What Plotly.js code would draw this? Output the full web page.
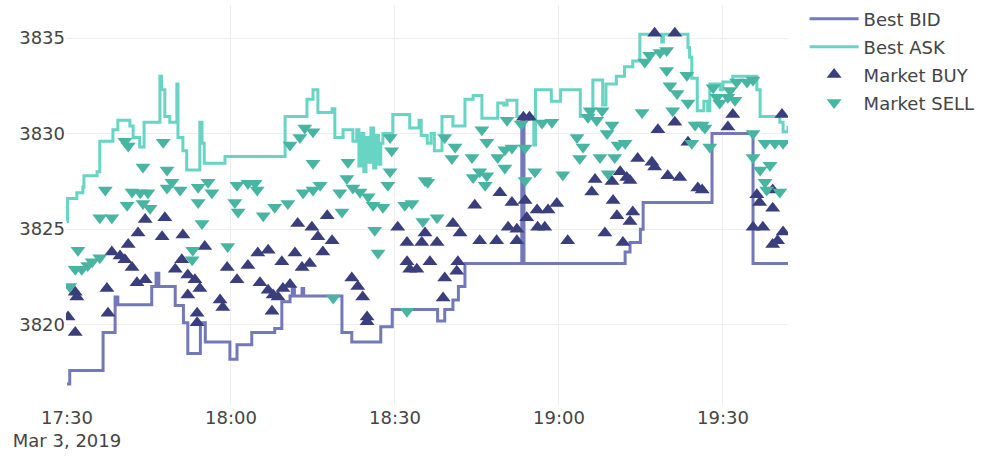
<!DOCTYPE html>
<html>
<head>
<meta charset="utf-8">
<script src="https://cdn.plot.ly/plotly-3.0.1.min.js"></script>
<style>html,body{margin:0;padding:0;background:#fff;}#chart{width:985px;height:459px;}</style>
</head>
<body>
<div id="chart"></div>
<script>
// Times are minutes after 2019-03-03 17:30:00
const bidMin = [0, 0.5, 6.6, 8.8, 9.3, 15.5, 16.3, 16.8, 19.8, 21.3, 22.1, 24.4, 25.3, 29.8, 31.1, 33.8, 38.0, 39.3, 40.8, 41.2, 41.6, 43.0, 43.3, 50.3, 52.1, 57.4, 59.5, 67.8, 69.1, 70.6, 71.6, 72.8, 83.2, 83.6, 102.1, 103.0, 104.9, 105.4, 118.0, 125.5, 131.9];
const bidPx  = [3816.9, 3817.6, 3819.6, 3821.45, 3821.05, 3822.0, 3822.7, 3822.0, 3821.0, 3820.1, 3818.5, 3820.1, 3819.1, 3818.2, 3818.95, 3819.6, 3819.8, 3821.2, 3821.5, 3821.9, 3821.5, 3821.9, 3821.5, 3819.6, 3819.1, 3819.9, 3820.8, 3820.2, 3820.8, 3821.3, 3822.0, 3823.2, 3830.8, 3823.2, 3823.8, 3824.3, 3825.0, 3826.4, 3830.0, 3823.2, 3823.2];

const askMin = [0, 0.1, 1.8, 2.9, 3.1, 5.5, 6.0, 8.4, 9.3, 11.5, 12.1, 13.3, 14.1, 17.0, 17.3, 17.9, 18.8, 20.1, 20.3, 21.2, 21.9, 24.3, 24.7, 25.1, 28.9, 39.9, 43.9, 45.0, 45.9, 48.5, 49.0, 50.5, 52.3, 53.0, 53.4, 53.8, 54.3, 54.7, 55.2, 55.6, 56.1, 56.5, 57.0, 57.4, 57.8, 59.6, 62.7, 64.4, 64.8, 65.9, 66.6, 67.2, 68.6, 70.6, 72.8, 74.3, 75.9, 78.8, 79.9, 80.5, 82.3, 85.4, 85.7, 88.6, 90.3, 93.9, 96.2, 98.0, 98.6, 99.3, 100.5, 102.0, 103.5, 104.8, 108.8, 109.1, 113.6, 113.9, 114.3, 115.3, 116.5, 117.2, 117.6, 119.5, 120.0, 121.8, 126.2, 126.8, 130.4, 131.0, 131.9];
const askPx  = [3825.4, 3826.6, 3826.9, 3827.2, 3827.8, 3828.0, 3829.6, 3830.2, 3830.7, 3830.4, 3829.8, 3829.3, 3830.6, 3833.0, 3832.3, 3830.9, 3830.6, 3832.6, 3829.8, 3829.1, 3828.1, 3830.6, 3829.5, 3828.45, 3828.8, 3830.9, 3831.8, 3832.3, 3831.1, 3831.3, 3829.8, 3830.2, 3829.6, 3830.2, 3828.3, 3830.0, 3828.0, 3829.8, 3828.5, 3830.3, 3828.2, 3829.9, 3828.4, 3829.5, 3830.0, 3831.0, 3830.3, 3830.7, 3829.9, 3829.5, 3830.0, 3829.1, 3830.9, 3830.4, 3831.8, 3832.0, 3830.8, 3831.6, 3831.5, 3831.75, 3830.9, 3829.4, 3832.3, 3831.7, 3832.3, 3830.9, 3832.8, 3831.5, 3832.6, 3832.6, 3833.0, 3833.5, 3833.8, 3835.2, 3834.8, 3835.2, 3834.5, 3834.0, 3832.9, 3831.2, 3831.7, 3831.2, 3832.6, 3832.3, 3832.7, 3833.0, 3832.3, 3830.9, 3830.6, 3830.1, 3830.4];

const buyMin = [14.3, 17.9, 13.0, 17.4, 21.2, 11.2, 25.2, 8.2, 9.7, 10.6, 11.9, 21.0, 19.8, 22.1, 23.4, 24.3, 12.8, 14.3, 7.3, 1.5, 1.8, 22.1, 28.0, 28.5, 29.3, 31.1, 33.1, 7.5, 23.8, 23.8, 0.2, 1.5,
  47.6, 42.2, 44.8, 45.9, 48.5, 46.8, 34.9, 36.8, 39.3, 41.7, 43.0, 44.4, 35.3, 36.8, 37.7, 39.5, 40.8, 38.6, 37.5, 52.1, 53.2, 54.1, 54.9, 54.9, 60.5, 62.2, 62.2, 64.0, 62.7, 64.9, 65.5,
  74.6, 81.4, 83.8, 86.0, 88.0, 89.6, 70.6, 71.9, 67.7, 75.5, 78.6, 80.7, 82.3, 82.3, 84.1, 86.1, 87.4, 91.6, 98.4, 100.6, 99.9, 66.4, 71.5, 71.3, 69.1, 68.8, 83.5, 84.6, 79.2, 96.6, 99.7, 96.0, 101.2,
  107.5, 111.2, 111.2, 108.1, 121.8, 120.9, 130.8, 113.6, 104.4, 107.0, 107.5, 109.9, 112.1, 102.4, 103.0, 115.4, 116.2, 126.2, 129.1, 103.5, 103.0, 101.7, 126.7, 129.1, 125.5, 127.3, 131.0, 130.0, 129.1];
const buyPx  = [3825.5, 3825.6, 3824.8, 3824.6, 3824.7, 3824.2, 3824.1, 3823.8, 3823.6, 3823.4, 3823.0, 3823.4, 3822.9, 3822.6, 3822.35, 3821.9, 3822.2, 3822.35, 3821.9, 3821.7, 3821.45, 3821.55, 3821.3, 3820.9, 3823.0, 3822.35, 3823.1, 3820.6, 3820.6, 3820.1, 3820.4, 3819.6,
  3825.7, 3825.3, 3825.1, 3824.6, 3824.4, 3823.8, 3823.75, 3823.9, 3823.3, 3823.75, 3823.0, 3823.2, 3822.2, 3821.8, 3821.55, 3821.9, 3822.1, 3821.45, 3820.7, 3822.45, 3822.0, 3821.45, 3820.4, 3820.15, 3825.1, 3824.3, 3823.3, 3822.9, 3822.9, 3824.3, 3824.8,
  3826.25, 3826.4, 3826.5, 3826.0, 3826.0, 3826.35, 3825.3, 3824.8, 3824.3, 3824.4, 3824.4, 3825.1, 3825.0, 3824.4, 3825.6, 3825.1, 3825.1, 3824.4, 3824.8, 3825.7, 3826.5, 3823.3, 3823.3, 3822.8, 3822.45, 3821.4, 3830.85, 3830.85, 3826.9, 3827.6, 3827.5, 3826.95, 3828.0,
  3835.25, 3835.25, 3830.6, 3830.2, 3831.0, 3830.35, 3831.0, 3829.55, 3828.7, 3828.5, 3828.25, 3827.8, 3827.7, 3827.7, 3827.55, 3827.15, 3827.05, 3826.8, 3827.05, 3825.9, 3825.4, 3824.3, 3826.4, 3826.1, 3825.1, 3825.1, 3824.85, 3824.4, 3824.2];

const sellMin = [10.6, 11.2, 17.6, 13.9, 18.3, 19.2, 7.0, 11.9, 13.4, 14.8, 18.3, 20.7, 24.0, 25.8, 26.5, 31.1, 33.1, 11.0, 13.9, 15.2, 6.0, 8.2, 24.0, 24.7, 30.7, 31.3, 2.0, 23.0, 22.9, 29.4, 4.6, 6.0, 2.7, 1.5, 3.8, 0.5,
  35.9, 38.0, 40.4, 50.3, 56.0, 57.8, 56.3, 56.9, 61.8, 63.1, 65.1, 48.7, 62.2, 40.8, 42.6, 43.5, 45.0, 45.0, 51.4, 59.1, 59.4, 59.1, 34.4, 34.8, 43.2, 45.0, 46.3, 49.9, 51.2, 52.3, 53.6, 55.1, 58.7, 65.5,
  69.1, 71.0, 75.9, 76.8, 80.5, 86.9, 88.7, 80.1, 81.4, 70.4, 74.1, 78.8, 83.8, 80.1, 75.5, 76.8, 85.6, 90.7, 66.0, 74.3, 76.5, 83.8, 93.3, 94.4, 93.8, 95.7, 96.9, 95.3, 97.9, 98.8, 99.7, 97.5, 99.0, 100.8, 67.7, 83.1,
  108.5, 109.7, 105.7, 106.6, 109.7, 110.3, 111.6, 113.4, 113.6, 105.2, 110.8, 114.9, 116.2, 116.7, 114.3, 117.6, 102.1, 100.2, 118.2, 118.9, 119.4, 120.9, 122.2, 121.3, 122.5, 124.4, 125.5, 125.5, 127.7, 129.5, 131.0, 125.5, 126.8, 128.6, 127.7, 128.0, 130.4];
const sellPx  = [3829.6, 3829.35, 3829.55, 3828.25, 3828.1, 3827.45, 3827.05, 3826.95, 3826.9, 3826.9, 3827.15, 3827.05, 3827.2, 3827.45, 3826.9, 3827.3, 3827.4, 3826.25, 3826.35, 3826.1, 3825.6, 3825.6, 3826.4, 3825.3, 3826.4, 3825.9, 3823.9, 3823.9, 3823.4, 3824.1, 3823.3, 3823.5, 3822.9, 3822.9, 3823.1, 3822.0,
  3825.7, 3826.15, 3826.35, 3825.9, 3826.25, 3826.15, 3824.95, 3823.75, 3826.25, 3826.35, 3825.4, 3821.4, 3820.7, 3829.4, 3829.8, 3830.3, 3830.1, 3828.45, 3828.5, 3829.8, 3829.1, 3828.0, 3827.4, 3827.05, 3826.9, 3827.05, 3827.3, 3826.9, 3827.65, 3827.15, 3826.95, 3826.7, 3827.3, 3827.55,
  3829.8, 3829.3, 3830.2, 3829.55, 3830.7, 3830.55, 3830.6, 3829.15, 3829.25, 3828.7, 3828.75, 3828.75, 3829.25, 3828.2, 3828.0, 3827.8, 3828.0, 3827.85, 3827.45, 3827.7, 3827.3, 3827.55, 3829.8, 3829.3, 3828.7, 3831.2, 3830.7, 3830.85, 3831.2, 3830.0, 3830.45, 3828.75, 3827.9, 3829.4, 3825.6, 3830.5,
  3834.25, 3834.35, 3833.75, 3834.1, 3833.3, 3832.5, 3832.1, 3833.05, 3831.6, 3831.1, 3831.2, 3830.45, 3830.45, 3830.3, 3829.5, 3829.3, 3829.5, 3828.75, 3832.4, 3831.9, 3831.6, 3831.9, 3831.75, 3832.25, 3832.7, 3832.7, 3832.8, 3830.0, 3829.5, 3829.5, 3829.5, 3828.75, 3828.1, 3828.35, 3827.45, 3827.05, 3826.95];

const base = Date.UTC(2019, 2, 3, 17, 30, 0);
const toTime = m => new Date(base + Math.round(m * 60000)).toISOString().slice(0, 19).replace('T', ' ');

const font = {family: '"DejaVu Sans", Verdana, sans-serif', size: 18, color: '#444'};

const traces = [
  {x: bidMin.map(toTime), y: bidPx, name: 'Best BID', type: 'scatter', mode: 'lines',
   line: {shape: 'hv', color: '#7378b9', width: 3}, legendgroup: 'a'},
  {x: askMin.map(toTime), y: askPx, name: 'Best ASK', type: 'scatter', mode: 'lines',
   line: {shape: 'hv', color: '#67d4c4', width: 3}, legendgroup: 'b'},
  {x: buyMin.map(toTime), y: buyPx, name: 'Market BUY', type: 'scatter', mode: 'markers',
   marker: {symbol: 'triangle-up', size: 13, color: '#3a3e7c'}, legendgroup: 'c'},
  {x: sellMin.map(toTime), y: sellPx, name: 'Market SELL', type: 'scatter', mode: 'markers',
   marker: {symbol: 'triangle-down', size: 13, color: '#48b5a2'}, legendgroup: 'd'}
];

const layout = {
  width: 985, height: 459,
  margin: {l: 66, r: 197, t: 5, b: 54, autoexpand: false},
  paper_bgcolor: '#fff', plot_bgcolor: '#fff',
  font: font,
  showlegend: true,
  legend: {x: 1.023, y: 1.011, xanchor: 'left', yanchor: 'top', font: font, traceorder: 'grouped', tracegroupgap: 1.5, itemwidth: 49},
  xaxis: {type: 'date', range: [toTime(-0.18), toTime(131.9)], dtick: 30 * 60000, tick0: toTime(0),
          showgrid: true, gridcolor: '#eee', zeroline: false, showline: false, ticks: '', tickfont: font, automargin: false},
  yaxis: {range: [3815.8, 3836.73], dtick: 5, tick0: 3820, showgrid: true, gridcolor: '#eee',
          zeroline: false, showline: false, ticks: '', tickfont: font, automargin: false}
};

Plotly.newPlot('chart', traces, layout, {displayModeBar: false});
</script>
</body>
</html>
